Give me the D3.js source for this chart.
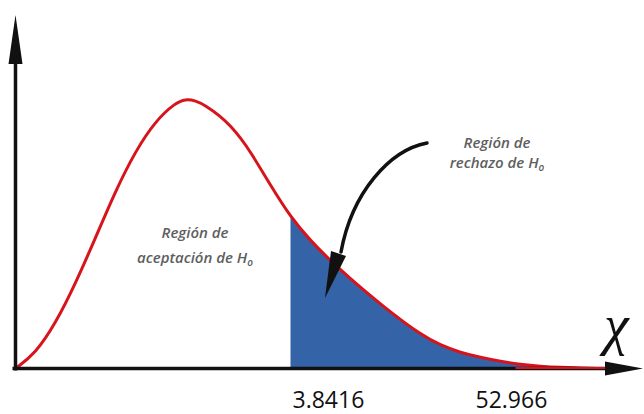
<!DOCTYPE html>
<html>
<head>
<meta charset="utf-8">
<script src="https://cdn.jsdelivr.net/npm/d3@7"></script>
<style>
  body { margin: 0; background: #fff; }
  svg { display: block; }
  .region { font-family: "Open Sans", sans-serif; font-style: italic; font-weight: 600; fill: #5e5e5e; font-size: 15px; }
  .tick-label { font-family: "Open Sans", sans-serif; font-size: 23px; fill: #111; }
</style>
</head>
<body>
<svg id="chart" width="644" height="414"></svg>
<script>
// curve (x in arbitrary units, y as % of peak)
var curveX = [0, 4, 8, 12, 16, 20, 24, 28, 32, 34, 36, 38, 41, 43, 45, 47, 51, 55, 59, 63, 67, 71, 75, 81, 85, 89, 93, 97, 101, 105, 109, 113, 117];
var curveY = [0, 5.6, 16.7, 31.5, 48.5, 65.9, 80.7, 91.9, 98.6, 100, 99.4, 97.6, 93.6, 90, 85.6, 80.4, 68, 56.2, 47.4, 40, 33.3, 27, 20.9, 12.6, 8.6, 5.9, 4.1, 2.6, 1.5, 0.8, 0.4, 0.2, 0];
var critical = 55;
var tickValues = [55.4, 92];
var tickLabels = ["3.8416", "52.966"];
var acceptLines = ["Región de", "aceptación de H"];
var rejectLines = ["Región de", "rechazo de H"];

var svg = d3.select("#chart");

var x = d3.scaleLinear().domain([0, 120]).range([15.5, 615.5]);
var y = d3.scaleLinear().domain([0, 100]).range([368.5, 99]);

var data = curveX.map(function(d, i) { return {x: d, y: curveY[i]}; });
var tail = data.filter(function(d) { return d.x >= critical; });
var smooth = d3.curveBasis;

// rejection region
svg.append("path")
    .datum(tail)
    .attr("fill", "#3563a8")
    .attr("d", d3.area()
        .x(function(d) { return x(d.x); })
        .y0(y(0))
        .y1(function(d) { return y(d.y); })
        .curve(smooth));

// density curve
svg.append("path")
    .datum(data)
    .attr("fill", "none")
    .attr("stroke", "#d7141c")
    .attr("stroke-width", 3)
    .attr("d", d3.line()
        .x(function(d) { return x(d.x); })
        .y(function(d) { return y(d.y); })
        .curve(smooth));

// axes with arrow heads
svg.append("line")
    .attr("x1", x(0)).attr("x2", x(0))
    .attr("y1", y(0) + 2).attr("y2", 60)
    .attr("stroke", "#111").attr("stroke-width", 3.5);
svg.append("path")
    .attr("d", "M" + x(0) + ",15 L" + (x(0) - 7) + ",64 L" + (x(0) + 7) + ",64 Z")
    .attr("fill", "#111");

svg.append("line")
    .attr("x1", x(0) - 3).attr("x2", 610)
    .attr("y1", y(0)).attr("y2", y(0))
    .attr("stroke", "#111").attr("stroke-width", 3.5);
// curve tail running on the axis
svg.append("line")
    .attr("x1", x(100)).attr("x2", x(118))
    .attr("y1", y(0) - 0.5).attr("y2", y(0) - 0.5)
    .attr("stroke", "#d7141c").attr("stroke-width", 2);
svg.append("path")
    .attr("d", "M605," + (y(0) - 7) + " L643," + y(0) + " L605," + (y(0) + 7) + " Z")
    .attr("fill", "#111");

svg.append("text")
    .attr("x", 604).attr("y", 344)
    .attr("font-family", "Liberation Serif, serif")
    .attr("font-style", "italic")
    .attr("font-size", 56)
    .attr("fill", "#111")
    .text("χ");

// tick labels
svg.selectAll("text.tick-label")
    .data(tickValues)
    .enter().append("text")
    .attr("class", "tick-label")
    .attr("x", function(d) { return x(d); })
    .attr("y", 408)
    .text(function(d, i) { return tickLabels[i]; });

// region labels
function regionLabel(cx, y1, gap, lines) {
    var t = svg.append("text").attr("class", "region").attr("text-anchor", "middle");
    t.append("tspan").attr("x", cx).attr("y", y1).text(lines[0]);
    var l2 = t.append("tspan").attr("x", cx).attr("y", y1 + gap).text(lines[1]);
    l2.append("tspan").attr("font-size", 10).attr("dy", 3).text("o");
}
regionLabel(195, 238, 25, acceptLines);
regionLabel(497, 148, 20, rejectLines);

// curved pointer to the rejection region
svg.append("path")
    .attr("d", "M427,143 C390,150 352,192 341,252")
    .attr("fill", "none")
    .attr("stroke", "#111")
    .attr("stroke-width", 3.5)
    .attr("stroke-linecap", "round");
svg.append("path")
    .attr("d", "M331,251 L346,256 L325,298 Z")
    .attr("fill", "#111");
</script>
</body>
</html>
